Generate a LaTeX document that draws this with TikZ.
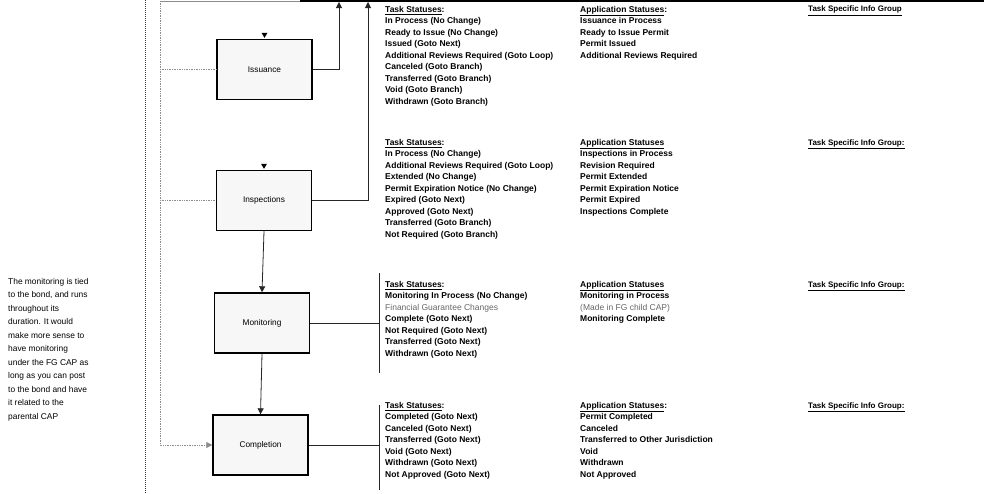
\documentclass[tikz,border=0pt]{standalone}
\usepackage{fontspec}
\setmainfont{Liberation Sans}
\usetikzlibrary{arrows.meta,calc}
\begin{document}
\begin{tikzpicture}[x=1pt,y=-1pt,
  stage/.style={draw=black, line width=1.4pt, fill=gray!6, minimum width=95pt, minimum height=60pt, inner sep=0pt, font=\fontsize{8.3}{9}\selectfont},
  conn/.style={draw=black!85, line width=0.8pt},
  tip/.style={-{Triangle[length=6pt,width=6pt]}},
  dots/.style={draw=black!45, line width=0.7pt, densely dotted},
  farline/.style={draw=black!80, line width=1pt, densely dotted},
  block/.style={anchor=north west, inner sep=0pt, align=left, font=\fontsize{8.5}{11.5}\selectfont\bfseries},
  info/.style={anchor=north west, inner sep=0pt, align=left, font=\fontsize{8}{11.5}\selectfont\bfseries},
  note/.style={anchor=north west, inner sep=0pt, align=left, font=\fontsize{8.4}{13.5}\selectfont}
]
\useasboundingbox (0,0) rectangle (984,493);

% stage boxes
\node[stage] (iss)  at (264.5,69.5) {Issuance};
\node[stage] (insp) at (264,200.5) {Inspections};
\node[stage] (mon)  at (262,323) {Monitoring};
\node[stage] (comp) at (260.5,445) {Completion};

% coordinates
\coordinate (ftop) at (145,0);
\coordinate (fbot) at (145,493);
\coordinate (rtop) at (160,1);
\coordinate (mid)  at (300,1);
\coordinate (tend) at (984,1);
\coordinate (up1)  at (339,2);
\coordinate (up2)  at (368,2);
\coordinate (b1t)  at (379,273);
\coordinate (b1b)  at (379,373);
\coordinate (b2t)  at (379,405);
\coordinate (b2b)  at (379,490);

% left lines
\draw[farline] (ftop) -- (fbot);
\draw[dots, tip] (rtop) |- (comp.west);
\draw[dots] (rtop |- iss.west) -- (iss.west);
\draw[dots] (rtop |- insp.west) -- (insp.west);

% top line
\draw[draw=black!45, line width=0.8pt] (rtop) -- (mid);
\draw[draw=black, line width=1.2pt] (mid) -- (tend);

% risers
\draw[conn, tip] (iss.east) -| (up1);
\draw[conn, tip] (insp.east) -| (up2);

% flow
\draw[conn, tip] (insp.south) -- (mon.north);
\draw[conn, tip] (mon.south) -- (comp.north);

% brackets
\draw[conn] (b1t) -- (b1b);
\draw[conn] (b2t) -- (b2b);
\draw[conn] (mon.east) -- (mon.east -| b1t);
\draw[conn] (comp.east) -- (comp.east -| b2t);

% small markers above boxes
\fill ($(iss.north)+(-3,-6)$) -- ++(6,0) -- ($(iss.north)+(0,-1)$) -- cycle;
\fill ($(insp.north)+(-3,-6)$) -- ++(6,0) -- ($(insp.north)+(0,-1)$) -- cycle;

% Issuance texts
\node[block] (t1) at (385,6) {\underline{Task Statuses}:\\
In Process (No Change)\\
Ready to Issue (No Change)\\
Issued (Goto Next)\\
Additional Reviews Required (Goto Loop)\\
Canceled (Goto Branch)\\
Transferred (Goto Branch)\\
Void (Goto Branch)\\
Withdrawn (Goto Branch)};
\node[block] (a1) at (580,6) {\underline{Application Statuses}:\\
Issuance in Process\\
Ready to Issue Permit\\
Permit Issued\\
Additional Reviews Required};
\node[info] (s1) at (808,6) {\underline{Task Specific Info Group}};

% Inspections texts
\node[block] (t2) at (385,139) {\underline{Task Statuses}:\\
In Process (No Change)\\
Additional Reviews Required (Goto Loop)\\
Extended (No Change)\\
Permit Expiration Notice (No Change)\\
Expired (Goto Next)\\
Approved (Goto Next)\\
Transferred (Goto Branch)\\
Not Required (Goto Branch)};
\node[block] (a2) at (580,139) {\underline{Application Statuses}\\
Inspections in Process\\
Revision Required\\
Permit Extended\\
Permit Expiration Notice\\
Permit Expired\\
Inspections Complete};
\node[info] (s2) at (808,139) {\underline{Task Specific Info Group:}};

% Monitoring texts
\node[block] (t3) at (385,281) {\underline{Task Statuses}:\\
Monitoring In Process (No Change)\\
{\mdseries\color{black!60}Financial Guarantee Changes}\\
Complete (Goto Next)\\
Not Required (Goto Next)\\
Transferred (Goto Next)\\
Withdrawn (Goto Next)};
\node[block] (a3) at (580,281) {\underline{Application Statuses}\\
Monitoring in Process\\
{\mdseries\color{black!60}(Made in FG child CAP)}\\
Monitoring Complete};
\node[info] (s3) at (808,281) {\underline{Task Specific Info Group:}};

% Completion texts
\node[block] (t4) at (385,402) {\underline{Task Statuses}:\\
Completed (Goto Next)\\
Canceled (Goto Next)\\
Transferred (Goto Next)\\
Void (Goto Next)\\
Withdrawn (Goto Next)\\
Not Approved (Goto Next)};
\node[block] (a4) at (580,402) {\underline{Application Statuses}:\\
Permit Completed\\
Canceled\\
Transferred to Other Jurisdiction\\
Void\\
Withdrawn\\
Not Approved};
\node[info] (s4) at (808,402) {\underline{Task Specific Info Group:}};

% side note
\node[note] (nt) at (8,278) {The monitoring is tied\\
to the bond, and runs\\
throughout its\\
duration. It would\\
make more sense to\\
have monitoring\\
under the FG CAP as\\
long as you can post\\
to the bond and have\\
it related to the\\
parental CAP};
\end{tikzpicture}
\end{document}
